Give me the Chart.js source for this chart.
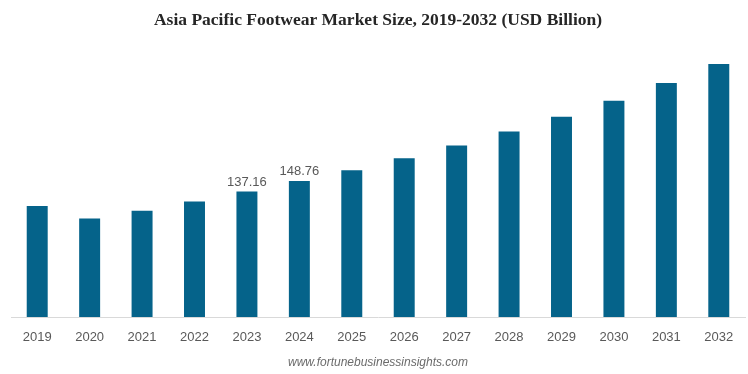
<!DOCTYPE html>
<html>
<head>
<meta charset="utf-8">
<script src="https://cdn.jsdelivr.net/npm/chart.js@4/dist/chart.umd.min.js"></script>
<style>
  html, body { margin: 0; padding: 0; background: #ffffff; }
  #wrap { width: 748px; height: 374px; position: relative; }
</style>
</head>
<body>
<div id="wrap"><canvas id="c" width="748" height="374"></canvas></div>
<script>
const years = ["2019","2020","2021","2022","2023","2024","2025","2026","2027","2028","2029","2030","2031","2032"];
const marketSize = [121.5, 107.7, 116.1, 126.3, 137.16, 148.76, 160.6, 173.8, 187.6, 202.9, 219.0, 236.5, 255.9, 276.7];
const labelledYears = ["2023", "2024"];
const titleText = "Asia Pacific Footwear Market Size, 2019-2032 (USD Billion)";
const sourceText = "www.fortunebusinessinsights.com";

const valueLabels = {
  id: 'valueLabels',
  afterDatasetsDraw(chart) {
    const ctx = chart.ctx;
    const meta = chart.getDatasetMeta(0);
    ctx.save();
    ctx.font = '13px "Liberation Sans", Arial, sans-serif';
    ctx.fillStyle = '#595959';
    ctx.textAlign = 'center';
    ctx.textBaseline = 'bottom';
    meta.data.forEach((bar, i) => {
      if (labelledYears.includes(years[i])) {
        ctx.fillText(marketSize[i].toFixed(2), bar.x, bar.y - 3);
      }
    });
    ctx.restore();
  }
};

new Chart(document.getElementById('c'), {
  type: 'bar',
  data: {
    labels: years,
    datasets: [{
      data: marketSize,
      backgroundColor: '#05638A',
      barPercentage: 0.4,
      categoryPercentage: 1.0
    }]
  },
  options: {
    responsive: false,
    animation: false,
    layout: { padding: { left: 11, right: 3, top: 0, bottom: 0 } },
    plugins: {
      legend: { display: false },
      tooltip: { enabled: false },
      title: {
        display: true,
        text: titleText,
        color: '#262626',
        font: { family: '"Liberation Serif", "Times New Roman", serif', size: 17.5, weight: 'bold' },
        padding: { top: 10, bottom: 20 }
      },
      subtitle: {
        display: true,
        position: 'bottom',
        text: sourceText,
        color: '#6b6b6b',
        font: { family: '"Liberation Sans", Arial, sans-serif', size: 12, style: 'italic', weight: 'normal' },
        padding: { top: -3, bottom: 4 }
      }
    },
    scales: {
      x: {
        grid: { display: false, drawTicks: false },
        border: { display: true, color: '#d9d9d9', width: 1 },
        ticks: {
          color: '#595959',
          padding: 13,
          font: { family: '"Liberation Sans", Arial, sans-serif', size: 13 }
        }
      },
      y: {
        display: false,
        min: 0,
        max: 291
      }
    }
  },
  plugins: [valueLabels]
});
</script>
</body>
</html>
